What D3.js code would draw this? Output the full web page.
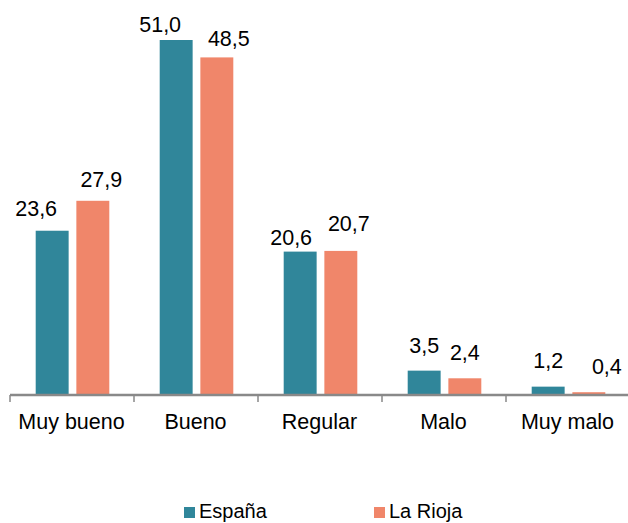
<!DOCTYPE html>
<html><head><meta charset="utf-8">
<script src="https://cdn.jsdelivr.net/npm/d3@7"></script>
<style>body{margin:0;background:#fff}svg{display:block}text{font-family:"Liberation Sans",Arial,sans-serif;fill:#000}</style>
</head><body>
<svg id="c" width="628" height="523"></svg>
<script>
const categories = ["Muy bueno", "Bueno", "Regular", "Malo", "Muy malo"];
const seriesNames = ["España", "La Rioja"];
const espana = [23.6, 51.0, 20.6, 3.5, 1.2];
const laRioja = [27.9, 48.5, 20.7, 2.4, 0.4];
const colors = ["#30869A", "#F0866A"];
// label layout nudges (dx, gap above bar) per series/category
const labelDx = [[-16, -16, -9, 0, 0], [8.5, 12, 8, 0, 18]];
const labelGap = [[15, 8, 7, 18, 19], [14, 11, 20, 18, 18]];

const svg = d3.select("#c");
const x0 = d3.scaleBand().domain(categories).range([10, 630]).padding(0);
const x1 = d3.scaleBand().domain(seriesNames).range([25.7, 99.3]).paddingInner(0.19);
const y = d3.scaleLinear().domain([0, 51]).range([395, 40]);
const values = [espana, laRioja];

seriesNames.forEach((s, si) => {
  const g = svg.append("g");
  g.selectAll("rect").data(values[si]).join("rect")
    .attr("x", (d, i) => x0(categories[i]) + x1(s))
    .attr("y", d => y(d))
    .attr("width", x1.bandwidth())
    .attr("height", d => y(0) - y(d))
    .attr("fill", colors[si]);
  g.selectAll("text").data(values[si]).join("text")
    .attr("x", (d, i) => x0(categories[i]) + x1(s) + x1.bandwidth() / 2 + labelDx[si][i])
    .attr("y", (d, i) => y(d) - labelGap[si][i])
    .attr("text-anchor", "middle")
    .style("font-size", "21.5px")
    .text(d => d.toFixed(1).replace(".", ","));
});

// axis
const ax = svg.append("g");
ax.append("line").attr("x1", 10).attr("x2", 628).attr("y1", y(0)).attr("y2", y(0))
  .attr("stroke", "#898989").attr("stroke-width", 2.5);
const bounds = categories.map(c => x0(c)).concat([x0.range()[1]]);
ax.selectAll("line.t").data(bounds).join("line").attr("class", "t")
  .attr("x1", d => d).attr("x2", d => d).attr("y1", y(0)).attr("y2", y(0) + 7)
  .attr("stroke", "#898989").attr("stroke-width", 1.5);
ax.selectAll("text").data(categories).join("text")
  .attr("x", d => x0(d) + x0.bandwidth() / 2 - 0.5)
  .attr("y", 429)
  .attr("text-anchor", "middle")
  .style("font-size", "21.5px")
  .text(d => d);

// legend
const legX = [184, 374];
const lg = svg.append("g");
seriesNames.forEach((s, i) => {
  lg.append("rect").attr("x", legX[i]).attr("y", 507).attr("width", 11).attr("height", 11).attr("fill", colors[i]);
  lg.append("text").attr("x", legX[i] + 15).attr("y", 518).style("font-size", "20px").text(s);
});
</script>
</body></html>
